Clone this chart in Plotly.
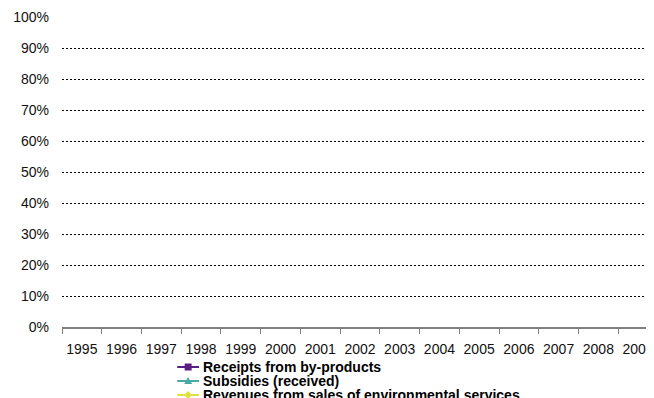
import plotly.graph_objects as go

# ---- data ----
years = [str(y) for y in range(1995, 2010)]
receipts_by_products = [None] * 15
subsidies_received = [None] * 15
revenues_env_services = [None] * 15
series_names = ["Receipts from by-products", "Subsidies (received)",
                "Revenues from sales of environmental services"]
series_values = [receipts_by_products, subsidies_received, revenues_env_services]
series_colors = ["#5A1E82", "#4AAAA8", "#E0E040"]
series_symbols = ["square", "triangle-up", "diamond"]
y_ticks = [i / 10 for i in range(11)]

# page body has an 8px margin; figure sized so nothing overflows the window
OFF = 8
W, H = 654 - OFF, 398 - OFF
L, R, T, B = 62 - OFF, 0, 17 - OFF, 398 - 327
PW, PH = W - L - R, H - T - B

def px(xs):
    return (xs - OFF - L) / PW

def py(ys):
    return (H - B - (ys - OFF)) / PH

FONT = "Liberation Sans, Arial, sans-serif"

fig = go.Figure()
for name, vals, col, sym in zip(series_names, series_values, series_colors, series_symbols):
    fig.add_trace(go.Scatter(x=years, y=vals, name=name, mode="lines+markers",
                             line=dict(color=col, width=2),
                             marker=dict(symbol=sym, color=col, size=7),
                             showlegend=False))

# compact legend (Excel-style row spacing)
shapes = []
annotations = []
row_y = [367, 381, 395]
for i, (name, col) in enumerate(zip(series_names, series_colors)):
    yc = row_y[i]
    shapes.append(dict(type="line", xref="paper", yref="paper",
                       x0=px(178), x1=px(200), y0=py(yc), y1=py(yc),
                       line=dict(color=col, width=2)))
    cx = 189
    if i == 0:
        shapes.append(dict(type="rect", xref="paper", yref="paper",
                           x0=px(cx - 3.5), x1=px(cx + 3.5), y0=py(yc + 3.5), y1=py(yc - 3.5),
                           fillcolor=col, line=dict(width=0)))
    elif i == 1:
        path = f"M {px(cx-4)},{py(yc+3)} L {px(cx+4)},{py(yc+3)} L {px(cx)},{py(yc-4)} Z"
        shapes.append(dict(type="path", xref="paper", yref="paper", path=path,
                           fillcolor=col, line=dict(width=0)))
    else:
        path = (f"M {px(cx-4)},{py(yc)} L {px(cx)},{py(yc-4)} "
                f"L {px(cx+4)},{py(yc)} L {px(cx)},{py(yc+4)} Z")
        shapes.append(dict(type="path", xref="paper", yref="paper", path=path,
                           fillcolor=col, line=dict(width=0)))
    annotations.append(dict(text=f"<b>{name}</b>", xref="paper", yref="paper",
                            x=px(202), y=py(yc), xanchor="left", yanchor="middle",
                            showarrow=False, align="left",
                            font=dict(family=FONT, size=14, color="#000")))

fig.update_layout(
    width=W, height=H,
    margin=dict(l=L, r=R, t=T, b=B, pad=0),
    paper_bgcolor="white", plot_bgcolor="white",
    font=dict(family=FONT, size=14, color="#111"),
    showlegend=False,
    shapes=shapes,
    annotations=annotations,
    xaxis=dict(type="category", categoryorder="array", categoryarray=years,
               range=[-0.5, -0.5 + PW / 40], showgrid=False, zeroline=False,
               showline=True, linecolor="#808080", linewidth=1.5,
               ticks="outside", tickson="boundaries", ticklen=5, tickcolor="#808080",
               tickwidth=1, ticklabelstandoff=8, tickangle=0, fixedrange=True),
    yaxis=dict(range=[0, 1], tickvals=y_ticks, tickformat=".0%", showgrid=True,
               gridcolor="#000", griddash="2px,2px", gridwidth=1,
               zeroline=False, showline=False, ticks="", ticklabelstandoff=12,
               tickfont=dict(size=14), fixedrange=True),
)

fig.write_html("out.html")
